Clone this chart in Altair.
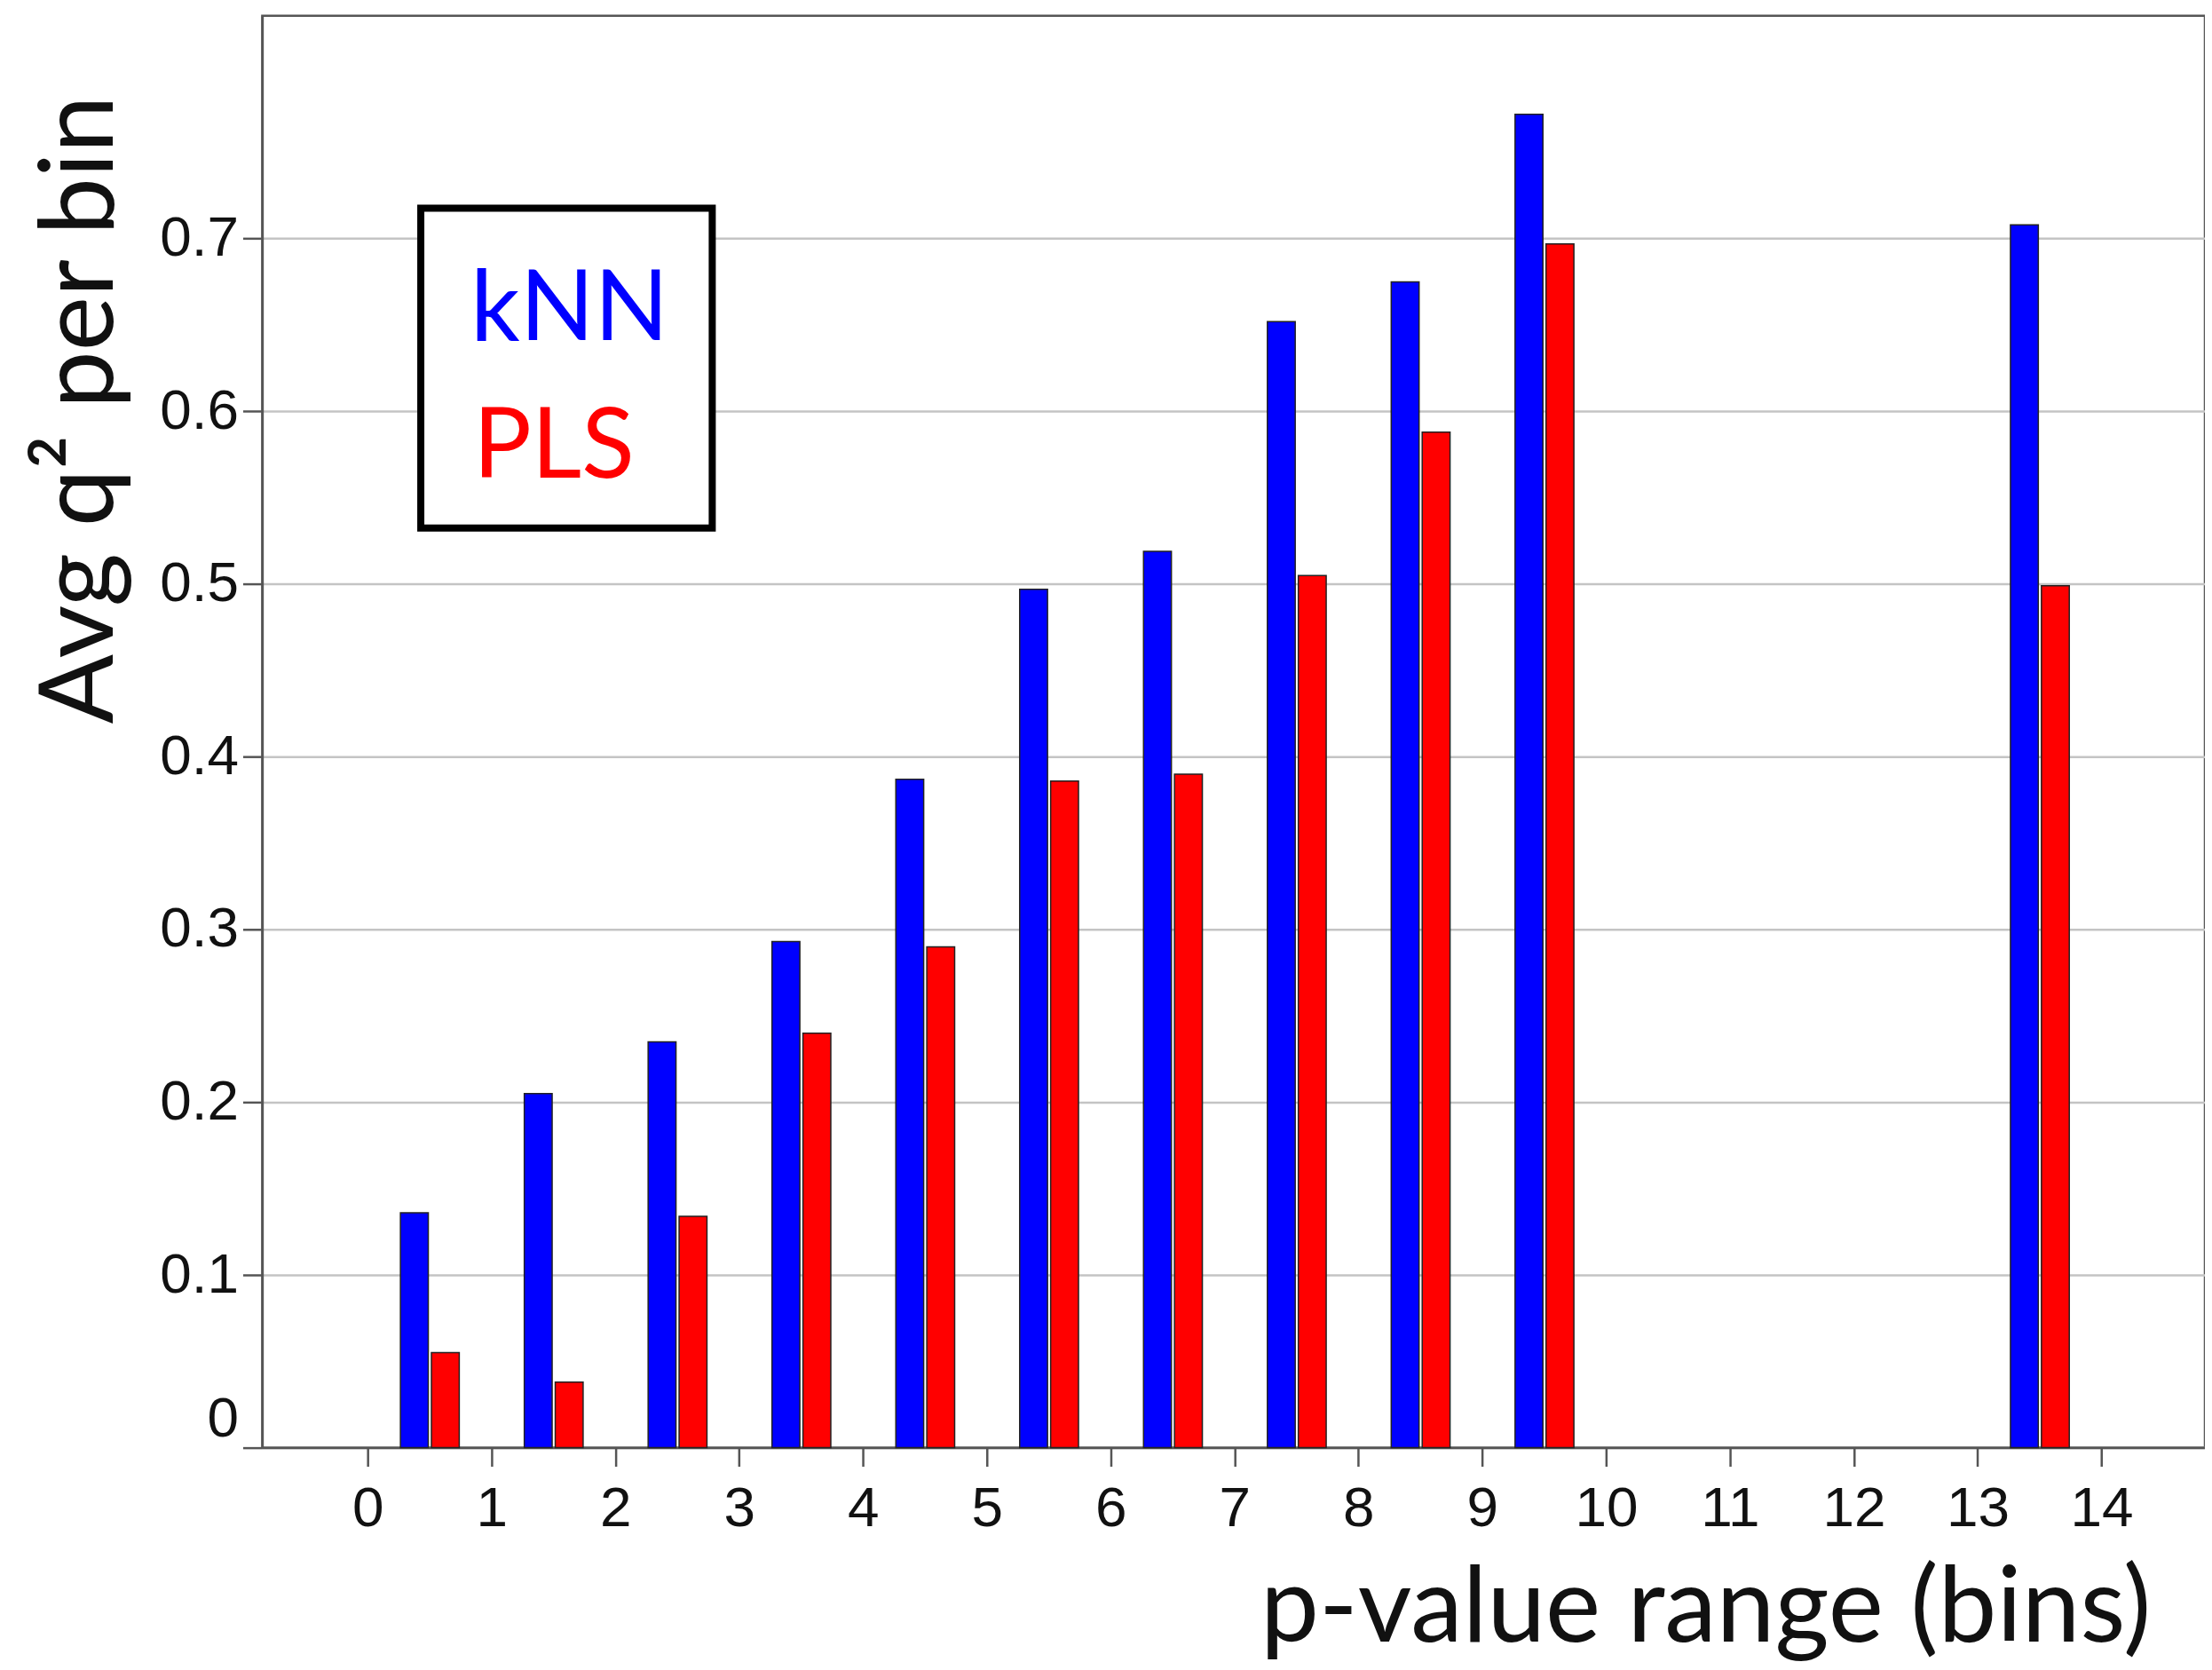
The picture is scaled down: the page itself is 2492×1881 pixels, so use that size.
import altair as alt
import pandas as pd

# ---- data ----
bins = [0, 1, 2, 3, 4, 5, 6, 7, 8, 9, 13]
knn = [0.136, 0.205, 0.235, 0.293, 0.387, 0.497, 0.519, 0.652, 0.675, 0.772, 0.708]
pls = [0.055, 0.038, 0.134, 0.240, 0.290, 0.386, 0.390, 0.505, 0.588, 0.697, 0.499]
models = ["kNN", "PLS"]
colors = ["#0000ff", "#ff0000"]
x_ticks = list(range(15))
y_ticks = [0, 0.1, 0.2, 0.3, 0.4, 0.5, 0.6, 0.7]

rows = []
for b, v in zip(bins, knn):
    rows.append({"bin": b, "model": "kNN", "value": v})
for b, v in zip(bins, pls):
    rows.append({"bin": b, "model": "PLS", "value": v})
df = pd.DataFrame(rows)

W, H = 2193, 1616
TITLE_FONT = "Lato"
LABEL_FONT = "Liberation Sans"

x_axis = alt.Axis(
    values=x_ticks, format="d", title="p-value range (bins)", grid=False,
    labelFont=LABEL_FONT, labelFontSize=64, labelColor="#111", labelPadding=16,
    labelFlush=False, labelOverlap=False,
    tickSize=21, tickWidth=2.5, tickColor="#555",
    domainColor="#555", domainWidth=2.5,
    titleFont=TITLE_FONT, titleFontSize=118, titleFontWeight="normal", titleColor="#111",
    titleX=1629, titleY=218, titleAlign="center", titleBaseline="alphabetic",
)

y_axis = alt.Axis(
    values=y_ticks, labelExpr="datum.value == 0 ? '0' : format(datum.value, '.1f')",
    title="Avg q\u00b2 per bin", grid=True, gridColor="#c4c4c4", gridWidth=2.5,
    labelFont=LABEL_FONT, labelFontSize=64, labelColor="#111", labelPadding=5,
    labelFlush=False, labelOverlap=False,
    labelBaseline={"condition": {"test": "datum.value == 0", "value": "bottom"}, "value": "middle"},
    tickSize=22, tickWidth=2.5, tickColor="#555",
    domainColor="#555", domainWidth=2.5,
    titleFont=TITLE_FONT, titleFontSize=116, titleFontWeight="normal", titleColor="#111",
    titleAngle=270, titleX=-169, titleY=444, titleAlign="center", titleBaseline="alphabetic",
)

bars = alt.Chart(df).transform_calculate(
    x0="datum.bin + (datum.model == 'kNN' ? 0.265 : 0.515)",
    x1="datum.bin + (datum.model == 'kNN' ? 0.49 : 0.74)",
).mark_bar(stroke="#222", strokeWidth=1.5).encode(
    x=alt.X("x0:Q", scale=alt.Scale(domain=[-0.851, 14.835], nice=False, zero=False), axis=x_axis),
    x2="x1:Q",
    y=alt.Y("value:Q", stack=None, scale=alt.Scale(domain=[0, 0.829], nice=False), axis=y_axis),
    y2=alt.datum(0),
    color=alt.Color("model:N", scale=alt.Scale(domain=models, range=colors), legend=None),
)

box = alt.Chart(pd.DataFrame({"k": [0]})).mark_rect(
    fill="white", stroke="black", strokeWidth=8
).encode(x=alt.value(179), x2=alt.value(508), y=alt.value(217), y2=alt.value(578))

legend_x = [235, 238]
legend_y = [366, 521]
texts = []
for lab, col, lx, ly in zip(models, colors, legend_x, legend_y):
    texts.append(
        alt.Chart(pd.DataFrame({"label": [lab]})).mark_text(
            font=TITLE_FONT, fontSize=110, align="left", baseline="alphabetic"
        ).encode(x=alt.value(lx), y=alt.value(ly), text="label:N", color=alt.value(col))
    )

chart = alt.layer(bars, box, *texts).properties(
    width=W, height=H,
    padding={"left": 288, "top": 8, "right": 0, "bottom": 241},
    autosize=alt.AutoSizeParams(type="none"),
    background="white",
).configure_view(stroke="#555", strokeWidth=2.5)

chart.save("out.html", embed_options={"renderer": "svg", "actions": False})
